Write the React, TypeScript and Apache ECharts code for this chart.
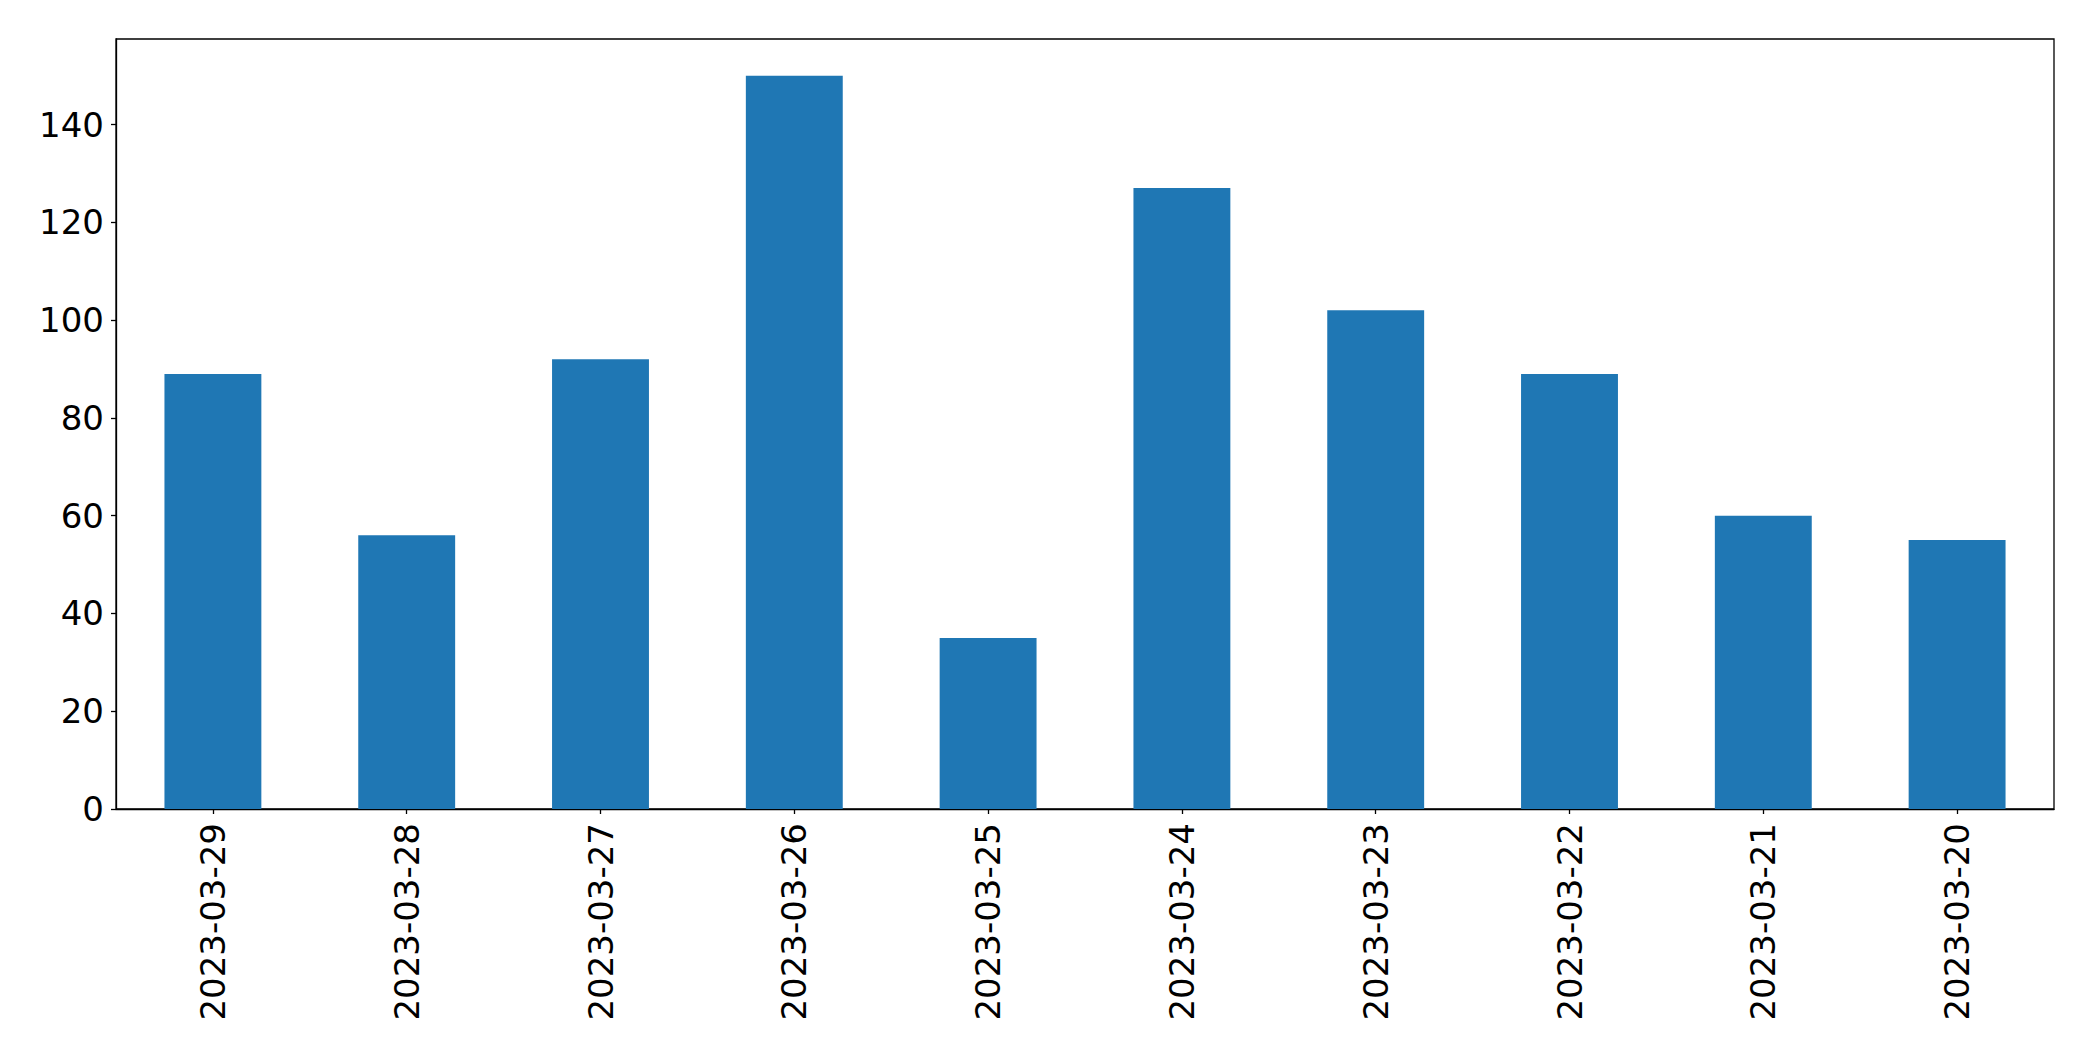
import React, { useEffect, useRef } from "react";
import * as echarts from "echarts";

const categories = [
  "2023-03-29",
  "2023-03-28",
  "2023-03-27",
  "2023-03-26",
  "2023-03-25",
  "2023-03-24",
  "2023-03-23",
  "2023-03-22",
  "2023-03-21",
  "2023-03-20",
];
const values = [89, 56, 92, 150, 35, 127, 102, 89, 60, 55];
const yMax = 157.5;
const yInterval = 20;

export default function App() {
  const ref = useRef<HTMLDivElement>(null);
  useEffect(() => {
    if (!ref.current) return;
    const chart = echarts.init(ref.current, undefined, { renderer: "svg" });
    const font = "DejaVu Sans";
    chart.setOption({
      animation: false,
      backgroundColor: "#ffffff",
      grid: {
        left: 116,
        top: 39,
        right: 39,
        bottom: 252,
        show: true,
        borderColor: "#000000",
        borderWidth: 1.3,
        backgroundColor: "transparent",
      },
      xAxis: {
        type: "category",
        data: categories,
        boundaryGap: true,
        axisLine: { show: true, lineStyle: { color: "#000000", width: 1.3 } },
        axisTick: {
          show: true,
          alignWithLabel: true,
          length: 5,
          lineStyle: { color: "#000000", width: 1.3 },
        },
        axisLabel: {
          rotate: 90,
          margin: 14,
          color: "#000000",
          fontFamily: font,
          fontSize: 34,
          interval: 0,
        },
        splitLine: { show: false },
      },
      yAxis: {
        type: "value",
        min: 0,
        max: yMax,
        interval: yInterval,
        axisLine: { show: true, lineStyle: { color: "#000000", width: 1.3 } },
        axisTick: {
          show: true,
          length: 5,
          lineStyle: { color: "#000000", width: 1.3 },
        },
        axisLabel: {
          margin: 12,
          color: "#000000",
          fontFamily: font,
          fontSize: 34,
          showMaxLabel: false,
          formatter: (v: number) => (v % yInterval === 0 ? String(v) : ""),
        },
        splitLine: { show: false },
      },
      series: [
        {
          type: "bar",
          data: values,
          barWidth: "50%",
          itemStyle: { color: "#1f77b4" },
        },
      ],
    });
    return () => chart.dispose();
  }, []);
  return (
    <div
      ref={ref}
      style={{ position: "fixed", left: 0, top: 0, width: 2093, height: 1061 }}
    />
  );
}
